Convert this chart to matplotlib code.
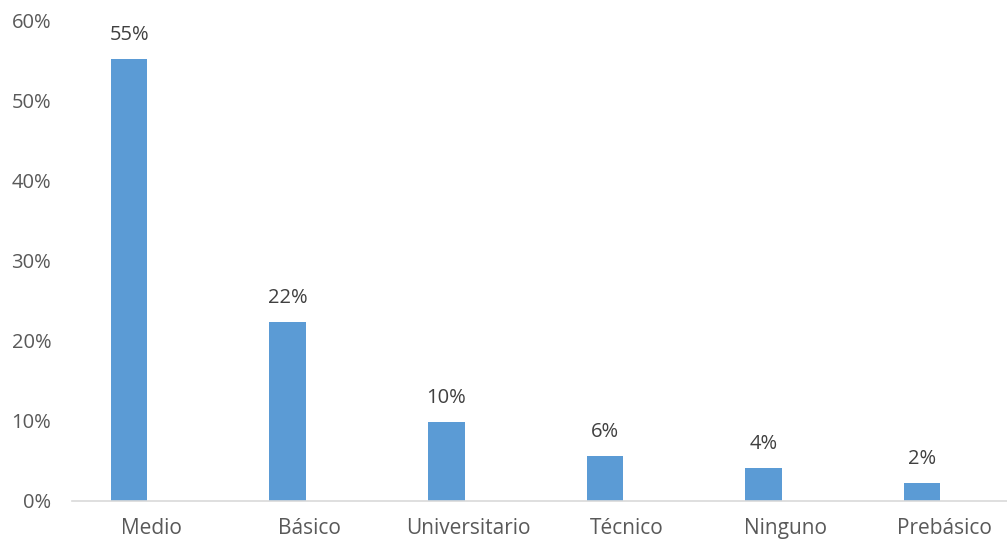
import matplotlib.pyplot as plt
import matplotlib
from matplotlib.transforms import ScaledTranslation

matplotlib.rcParams['font.family'] = ['Open Sans', 'DejaVu Sans']

categorias = ['Medio', 'Básico', 'Universitario', 'Técnico', 'Ninguno', 'Prebásico']
porcentajes = [55.1, 22.3, 9.9, 5.6, 4.1, 2.2]
etiquetas = ['{:.0f}%'.format(v) for v in porcentajes]

fig = plt.figure(figsize=(10.07, 5.39), dpi=100)
ax = fig.add_axes([72 / 1007, 1 - 501 / 539, 935 / 1007, 481 / 539])

x = range(len(categorias))
barras = ax.bar(x, porcentajes, width=0.23, color='#5B9BD5')

for b, txt in zip(barras, etiquetas):
    ax.annotate(txt, (b.get_x() + b.get_width() / 2, b.get_height()),
                xytext=(0, 10), textcoords='offset points',
                ha='center', va='bottom', fontsize=14.5, color='#404040')

ax.set_xlim(-0.36, 5.535)
ax.set_ylim(0, 60)
ax.set_yticks(range(0, 61, 10))
ax.set_yticklabels(['{}%'.format(t) for t in range(0, 61, 10)])
ax.set_xticks(list(x))
ax.set_xticklabels(categorias)

for s in ['top', 'right', 'left']:
    ax.spines[s].set_visible(False)
ax.spines['bottom'].set_color('#D9D9D9')
ax.spines['bottom'].set_linewidth(1.2)
ax.tick_params(axis='both', length=0, colors='#595959')
ax.tick_params(axis='x', pad=12, labelsize=15)
ax.tick_params(axis='y', pad=15, labelsize=14.5)

# las etiquetas de categoria van un poco a la derecha de cada barra
desplazar = ScaledTranslation(22 / 100, 0, fig.dpi_scale_trans)
for lbl in ax.get_xticklabels():
    lbl.set_transform(lbl.get_transform() + desplazar)

plt.savefig('out.png', dpi=100)
